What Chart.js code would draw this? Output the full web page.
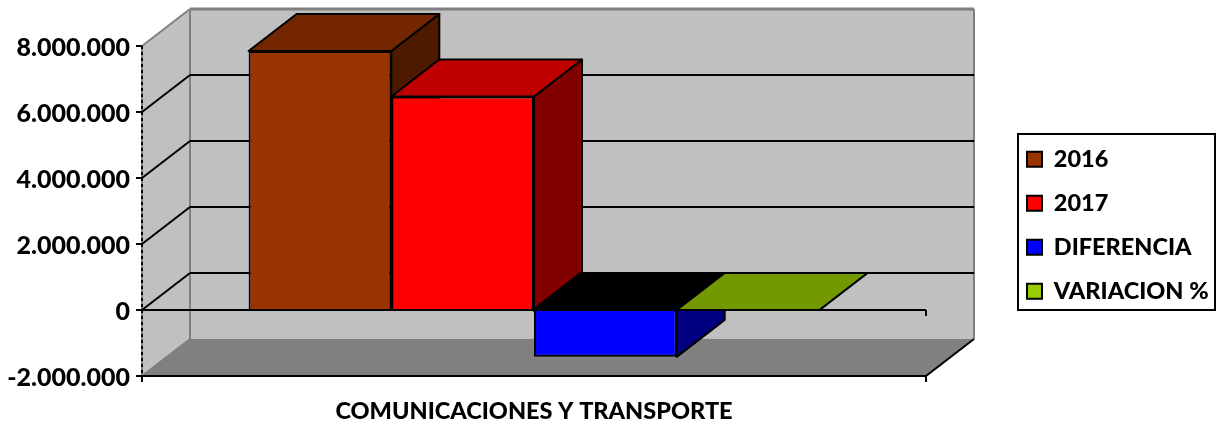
<!DOCTYPE html>
<html>
<head>
<meta charset="utf-8">
<style>
body { margin: 0; background: #fff; }
canvas { display: block; }
</style>
<script src="https://cdn.jsdelivr.net/npm/chart.js@4"></script>
</head>
<body>
<canvas id="myChart" width="1219" height="422"></canvas>
<script>
var categories = ['COMUNICACIONES Y TRANSPORTE'];
var seriesNames = ['2016', '2017', 'DIFERENCIA', 'VARIACION %'];
var values2016 = [7850000];
var values2017 = [6470000];
var valuesDiferencia = [-1420000];
var valuesVariacion = [0];

var frontColors = ['#993300', '#FF0000', '#0000FF', '#99CC00'];
var topColors = ['#732600', '#BF0000', '#000000', '#739900'];
var sideColors = ['#4D1A00', '#800000', '#000080', '#4D6600'];

// profundidad del efecto 3D
var depthX = 48;
var depthY = 37;
var fontName = 'Lato, "Open Sans", sans-serif';

function poly(ctx, pts, fill, stroke, lw) {
    ctx.beginPath();
    ctx.moveTo(pts[0][0], pts[0][1]);
    for (var i = 1; i < pts.length; i++) {
        ctx.lineTo(pts[i][0], pts[i][1]);
    }
    ctx.closePath();
    if (fill) {
        ctx.fillStyle = fill;
        ctx.fill();
    }
    if (stroke) {
        ctx.strokeStyle = stroke;
        ctx.lineWidth = lw;
        ctx.stroke();
    }
}

function line(ctx, x1, y1, x2, y2, color, lw) {
    ctx.beginPath();
    ctx.moveTo(x1, y1);
    ctx.lineTo(x2, y2);
    ctx.strokeStyle = color;
    ctx.lineWidth = lw;
    ctx.stroke();
}

var box3d = {
    id: 'box3d',
    beforeInit: function(chart) {
        // ancho fijo de la leyenda
        var fit = chart.legend.fit;
        chart.legend.fit = function() {
            fit.call(this);
            this.width = 293;
        };
    },
    afterLayout: function(chart) {
        var legend = chart.legend;
        legend.left = 1006.5;
        legend.right = 1219;
        legend.top = 127;
        legend.bottom = 422;
    },
    beforeDraw: function(chart) {
        var ctx = chart.ctx;
        var area = chart.chartArea;
        var y = chart.scales.y;
        var top = y.getPixelForValue(y.max);
        var bottom = y.getPixelForValue(y.min);
        // bajar un poco los textos del eje
        if (!chart.$labelsMoved) {
            y.getLabelItems(area).forEach(function(item) {
                item.options.translation[1] += 2;
            });
            chart.$labelsMoved = true;
        }
        ctx.save();
        // paredes y piso
        poly(ctx, [[area.left + depthX, top - depthY], [area.right + depthX, top - depthY],
            [area.right + depthX, bottom - depthY], [area.left + depthX, bottom - depthY]], '#C0C0C0');
        poly(ctx, [[area.left, top], [area.left + depthX, top - depthY],
            [area.left + depthX, bottom - depthY], [area.left, bottom]], '#C0C0C0');
        poly(ctx, [[area.left, bottom], [area.left + depthX, bottom - depthY],
            [area.right + depthX, bottom - depthY], [area.right, bottom]], '#808080');
        line(ctx, area.left, top, area.left + depthX, top - depthY, '#808080', 2);
        line(ctx, area.left + depthX, top - depthY, area.right + depthX, top - depthY, '#808080', 3);
        line(ctx, area.left + depthX, top - depthY, area.left + depthX, bottom - depthY, '#808080', 2);
        line(ctx, area.right + depthX, top - depthY, area.right + depthX, bottom - depthY, '#808080', 2);
        line(ctx, area.left, top, area.left, bottom, '#808080', 2);
        line(ctx, area.left, bottom, area.left + depthX, bottom - depthY, '#808080', 2);
        line(ctx, area.right, bottom, area.right + depthX, bottom - depthY, '#000', 2);
        // lineas de la grilla
        y.ticks.forEach(function(t) {
            if (t.value === y.max || t.value === y.min) return;
            var py = y.getPixelForValue(t.value);
            line(ctx, area.left, py, area.left + depthX, py - depthY, '#000', 2);
            line(ctx, area.left + depthX, py - depthY, area.right + depthX, py - depthY, '#000', 2);
        });
        ctx.restore();
    },
    beforeDatasetsDraw: function(chart) {
        var ctx = chart.ctx;
        var area = chart.chartArea;
        var py = chart.scales.y.getPixelForValue(0);
        ctx.save();
        // eje vertical punteado
        ctx.setLineDash([3, 3]);
        line(ctx, area.left, area.top, area.left, area.bottom, '#000', 2);
        ctx.setLineDash([]);
        // linea del cero en el plano frontal
        line(ctx, area.left, py, area.right, py, '#000', 2);
        line(ctx, area.right, py, area.right, py + 6, '#000', 2);
        // caras laterales y superiores, de atras hacia adelante
        ctx.lineJoin = 'round';
        chart.data.datasets.forEach(function(ds, i) {
            var bar = chart.getDatasetMeta(i).data[0];
            var left = bar.x - bar.width / 2;
            var right = bar.x + bar.width / 2;
            var upper = Math.min(bar.y, bar.base);
            var lower = Math.max(bar.y, bar.base);
            poly(ctx, [[right, upper], [right + depthX, upper - depthY],
                [right + depthX, lower - depthY], [right, lower]], sideColors[i], '#000', 2);
            poly(ctx, [[left, upper], [left + depthX, upper - depthY],
                [right + depthX, upper - depthY], [right, upper]], topColors[i], '#000', 2);
        });
        ctx.restore();
    },
    afterDraw: function(chart) {
        var ctx = chart.ctx;
        ctx.save();
        ctx.strokeStyle = '#000';
        ctx.lineWidth = 2;
        ctx.strokeRect(1018, 134, 197, 176);
        ctx.restore();
    }
};

function makeDataset(i, values) {
    return {
        label: seriesNames[i],
        data: values,
        backgroundColor: frontColors[i],
        borderColor: '#000',
        borderWidth: 2
    };
}

new Chart(document.getElementById('myChart').getContext('2d'), {
    type: 'bar',
    data: {
        labels: categories,
        datasets: [
            makeDataset(0, values2016),
            makeDataset(1, values2017),
            makeDataset(2, valuesDiferencia),
            makeDataset(3, valuesVariacion)
        ]
    },
    options: {
        responsive: false,
        animation: false,
        barPercentage: 1,
        categoryPercentage: 0.728,
        layout: { padding: { top: 46, left: 0, right: 0, bottom: 0 } },
        plugins: {
            tooltip: { enabled: false },
            legend: {
                position: 'right',
                align: 'start',
                labels: {
                    boxWidth: 15,
                    boxHeight: 15,
                    padding: 20.5,
                    color: '#000',
                    font: { family: fontName, size: 23.5, weight: '900' }
                }
            }
        },
        scales: {
            x: {
                offset: true,
                afterFit: function(scale) { scale.height = 46; },
                grid: {
                    offset: true,
                    drawOnChartArea: false,
                    tickLength: 6,
                    color: '#000',
                    lineWidth: 2
                },
                border: { display: true, color: '#000', width: 2 },
                ticks: {
                    maxRotation: 0,
                    padding: 15,
                    color: '#000',
                    font: { family: fontName, size: 23.5, weight: '900' }
                }
            },
            y: {
                min: -2000000,
                max: 8000000,
                afterFit: function(scale) { scale.width = 142; },
                grid: {
                    drawOnChartArea: false,
                    tickLength: 6,
                    color: '#000',
                    lineWidth: 2
                },
                border: { display: false },
                ticks: {
                    stepSize: 2000000,
                    padding: 6,
                    color: '#000',
                    font: { family: fontName, size: 25, weight: '900' },
                    callback: function(v) {
                        return String(v).replace(/\B(?=(\d{3})+$)/g, '.');
                    }
                }
            }
        }
    },
    plugins: [box3d]
});
</script>
</body>
</html>
